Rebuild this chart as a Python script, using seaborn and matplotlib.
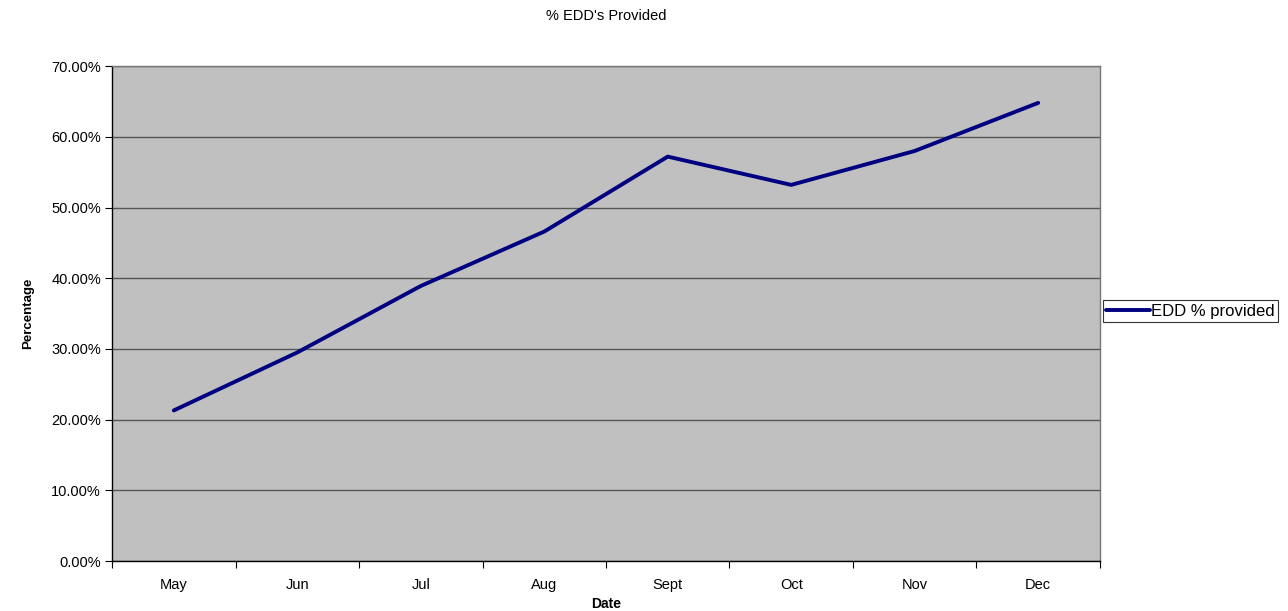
import numpy as np
import matplotlib
matplotlib.use("Agg")
import matplotlib.pyplot as plt
import seaborn as sns
import pandas as pd
from matplotlib.ticker import FuncFormatter, FixedLocator

months = ["May", "Jun", "Jul", "Aug", "Sept", "Oct", "Nov", "Dec"]
edd_pct = [21.3, 29.5, 38.9, 46.6, 57.2, 53.2, 58.0, 64.8]

df = pd.DataFrame({"Date": months, "Percentage": edd_pct})

sns.set_style("white")
plt.rcParams["font.family"] = ["Liberation Sans", "DejaVu Sans"]
plt.rcParams["text.color"] = "black"
plt.rcParams["axes.labelcolor"] = "black"
plt.rcParams["xtick.color"] = "black"
plt.rcParams["ytick.color"] = "black"

fig = plt.figure(figsize=(12.88, 6.11), dpi=100)
ax = fig.add_axes([0.087, 0.0818, 0.767, 0.810])
ax.set_facecolor("#C0C0C0")

sns.lineplot(data=df, x="Date", y="Percentage", ax=ax, color="#000080",
             linewidth=2.8, sort=False, label="EDD % provided")

ax.set_ylim(0, 70)
ax.set_xlim(-0.5, len(months) - 0.5)
ax.set_yticks(np.arange(0, 71, 10))
ax.yaxis.set_major_formatter(FuncFormatter(lambda v, p: f"{v:.2f}%"))
ax.yaxis.grid(True, color="#555555", linewidth=1.0)
ax.set_axisbelow(True)

ax.set_xticks(range(len(months)))
ax.set_xticklabels(months)
ax.xaxis.set_minor_locator(FixedLocator(np.arange(-0.5, len(months), 1.0)))
ax.tick_params(axis="x", which="major", bottom=True, length=0, pad=12, labelsize=10.5)
ax.tick_params(axis="x", which="minor", bottom=True, length=5, width=0.8, color="black", direction="out")
ax.tick_params(axis="y", left=True, length=5, width=0.8, color="black", direction="out", labelsize=10.5, pad=3)

for side in ["top", "right"]:
    ax.spines[side].set_color("#777777")
    ax.spines[side].set_linewidth(1.0)
for side in ["left", "bottom"]:
    ax.spines[side].set_color("black")
    ax.spines[side].set_linewidth(1.0)

ax.set_xlabel("Date", fontsize=10, fontweight="bold", labelpad=4)
ax.set_ylabel("Percentage", fontsize=9.5, fontweight="bold", labelpad=12)
ax.set_title("% EDD's Provided", fontsize=10.5, pad=33)

leg = ax.legend(loc="center left", bbox_to_anchor=(1.003, 0.505), fontsize=12,
                frameon=True, fancybox=False, borderpad=0.2, handlelength=2.6,
                handletextpad=0.1, borderaxespad=0)
leg.get_frame().set_edgecolor("black")
leg.get_frame().set_linewidth(0.8)

fig.savefig("out.png", dpi=100, facecolor="white")
